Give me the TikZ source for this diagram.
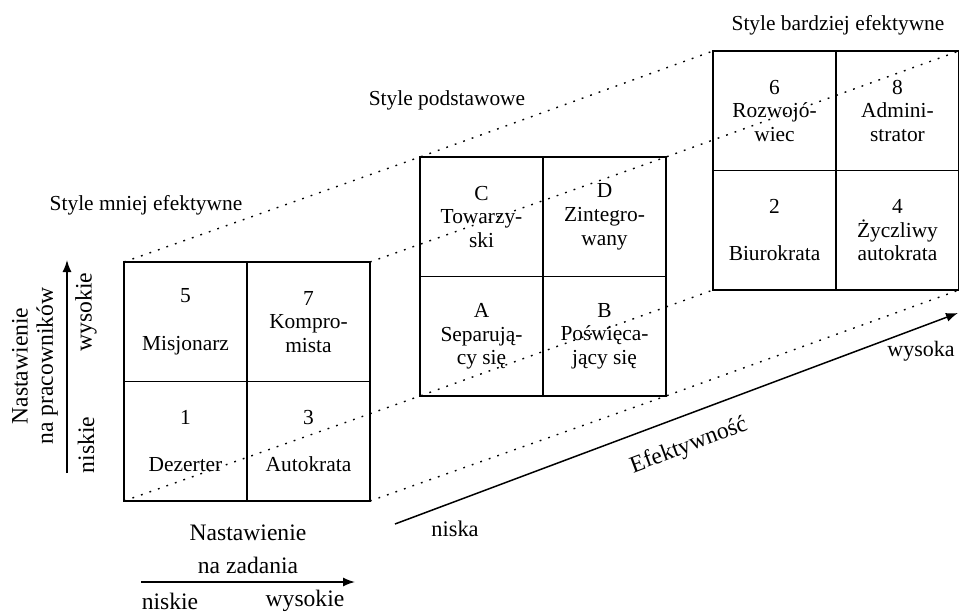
\documentclass[tikz,border=0pt]{standalone}
\usepackage{fontspec}
\setmainfont{Liberation Serif}
\usetikzlibrary{arrows.meta}
\begin{document}
\begin{tikzpicture}[x=0.5pt,y=-0.5pt,
  cell/.style={draw,line width=0.9pt,minimum width=61.5pt,minimum height=59.75pt,
    inner sep=0pt,outer sep=0pt,align=center,font=\fontsize{10.7}{11.8}\selectfont},
  dotline/.style={line width=0.7pt,dash pattern=on 0.9pt off 3.6pt},
  title/.style={font=\fontsize{10.7}{12}\selectfont,inner sep=0pt},
  lab/.style={font=\fontsize{11.8}{12.5}\selectfont,inner sep=0pt,align=center},
  arr/.style={line width=0.75pt,-{Latex[length=6pt,width=4.5pt]}}
]
\useasboundingbox (0,0) rectangle (959,611);

% left grid
\node[cell] (c5) at (185.5,321.75) {5\\\mbox{}\\Misjonarz};
\node[cell] (c7) at (308.5,321.75) {7\\Kompro-\\mista};
\node[cell] (c1) at (185.5,441.25) {1\\\mbox{}\\Dezerter};
\node[cell] (c3) at (308.5,441.25) {3\\\mbox{}\\Autokrata};
% middle grid
\node[cell] (cC) at (481.5,216.75) {C\\Towarzy-\\ski};
\node[cell] (cD) at (604.5,216.75) {D\\Zintegro-\\wany};
\node[cell] (cA) at (481.5,336.25) {A\\Separują-\\cy się};
\node[cell] (cB) at (604.5,336.25) {B\\Poświęca-\\jący się};
% right grid
\node[cell] (c6) at (774.5,110.75) {6\\Rozwojó-\\wiec};
\node[cell] (c8) at (897.5,110.75) {8\\Admini-\\strator};
\node[cell] (c2) at (774.5,230.25) {2\\\mbox{}\\Biurokrata};
\node[cell] (c4) at (897.5,230.25) {4\\Życzliwy\\autokrata};

% dotted projection lines
\draw[dotline] (c5.north west) -- (cC.north west) -- (c6.north west);
\draw[dotline] (c7.north east) -- (cD.north east) -- (c8.north east);
\draw[dotline] (c1.south west) -- (cA.south west) -- (c2.south west);
\draw[dotline] (c3.south east) -- (cB.south east) -- (c4.south east);

% titles
\node[title] (t1) at (146,205) {Style mniej efektywne};
\node[title] (t2) at (447,100) {Style podstawowe};
\node[title] (t3) at (838,25) {Style bardziej efektywne};

% effectiveness axis
\coordinate (e0) at (395,524);
\coordinate (e1) at (958,313);
\draw[arr] (e0) -- (e1);
\node[lab,rotate=20.6] (eff) at (689,446) {Efektywność};
\node[lab,font=\fontsize{11.2}{12}\selectfont] (elo) at (455,529) {niska};
\node[lab,font=\fontsize{11}{12}\selectfont] (ehi) at (921,351) {wysoka};

% vertical axis
\coordinate (v0) at (67,473);
\coordinate (v1) at (67,260);
\draw[arr] (v0) -- (v1);
\node[lab,rotate=90,font=\fontsize{11.8}{12.6}\selectfont] (ylab) at (35,366) {Nastawienie\\na pracowników};
\node[lab,rotate=90] (yhi) at (86,312) {wysokie};
\node[lab,rotate=90] (ylo) at (86,445) {niskie};

% horizontal axis
\coordinate (h0) at (141,582);
\coordinate (h1) at (355,582);
\draw[arr] (h0) -- (h1);
\node[lab,font=\fontsize{11.8}{16.5}\selectfont] (xlab) at (248,549) {Nastawienie\\na zadania};
\node[lab] (xlo) at (170,601) {niskie};
\node[lab] (xhi) at (305,601) {wysokie};
\end{tikzpicture}
\end{document}
